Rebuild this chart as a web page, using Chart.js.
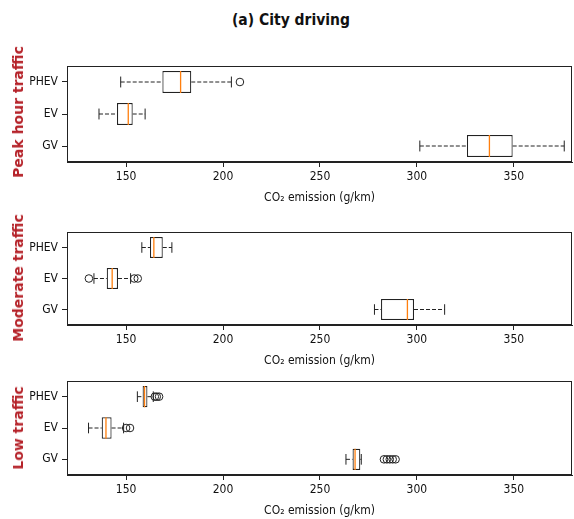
<!DOCTYPE html>
<html>
<head>
<meta charset="utf-8">
<script src="https://cdn.jsdelivr.net/npm/chart.js@4.4.1/dist/chart.umd.min.js"></script>
<style>
  body { margin: 0; background: #fff; }
  #wrap { position: relative; width: 574px; height: 519px; overflow: hidden; font-family: "DejaVu Sans Condensed", "DejaVu Sans", sans-serif; }
  #wrap canvas { position: absolute; left: 0; }
  .title { position: absolute; left: 141px; width: 300px; top: 10px; text-align: center; font-weight: bold; font-size: 15.5px; line-height: 20px; color: #111; }
  .rowlab { position: absolute; left: 18px; white-space: nowrap; font-family: "DejaVu Sans", sans-serif; font-weight: bold; font-size: 14px; color: #b52229; transform: translate(-50%, -50%) rotate(-90deg); }
</style>
</head>
<body>
<div id="wrap">
  <div class="title">(a) City driving</div>
</div>
<script>
// kategori (atas ke bawah) dan tick sumbu x
const categories = ['PHEV', 'EV', 'GV'];
const xTicks = [150, 200, 250, 300, 350];
const panelNames = ['Peak hour traffic', 'Moderate traffic', 'Low traffic'];

// Peak hour traffic
const peakWhiskerLow = [147.2, 136, 301.5];
const peakQ1 = [168.7, 145.3, 325.8];
const peakMedian = [178.1, 151.1, 337.4];
const peakQ3 = [183.6, 153.4, 349.4];
const peakWhiskerHigh = [204.3, 159.8, 376];
const peakOutliers = [[208.7], [], []];

// Moderate traffic
const modWhiskerLow = [158.1, 133.4, 278.1];
const modQ1 = [162.3, 140, 281.5];
const modMedian = [164.3, 142.8, 295.1];
const modQ3 = [168.9, 145.8, 298.5];
const modWhiskerHigh = [173.6, 152.3, 314.3];
const modOutliers = [[], [130.8, 154.2, 156], []];

// Low traffic
const lowWhiskerLow = [155.8, 130.6, 263.4];
const lowQ1 = [158.5, 137.4, 266.8];
const lowMedian = [159.5, 139.6, 268.1];
const lowQ3 = [161, 142.5, 270.8];
const lowWhiskerHigh = [164, 148.7, 271.3];
const lowOutliers = [[164.8, 165.8, 167], [150, 152], [283, 284.5, 286, 287.5, 289]];

const panels = [
  { lo: peakWhiskerLow, q1: peakQ1, med: peakMedian, q3: peakQ3, hi: peakWhiskerHigh, out: peakOutliers },
  { lo: modWhiskerLow, q1: modQ1, med: modMedian, q3: modQ3, hi: modWhiskerHigh, out: modOutliers },
  { lo: lowWhiskerLow, q1: lowQ1, med: lowMedian, q3: lowQ3, hi: lowWhiskerHigh, out: lowOutliers }
];

// posisi piksel area plot tiap panel
const areaTop = [66, 232, 381];
const areaBottom = [162, 325, 475];
const labelCenter = [112, 278, 428];
const boxPct = 0.68;
const boxHalf = boxPct / 2;
const capHalf = boxHalf / 2;
const ink = '#222';
const font = { family: '"DejaVu Sans Condensed", "DejaVu Sans", sans-serif', size: 12 };
const gap = { x: null, y: null };

// frame kotak di sekeliling area plot
const framePlugin = {
  id: 'frame',
  afterDraw(chart) {
    const a = chart.chartArea;
    const ctx = chart.ctx;
    ctx.save();
    ctx.strokeStyle = ink;
    ctx.lineWidth = 1;
    ctx.strokeRect(Math.round(a.left) + 0.5, Math.round(a.top) + 0.5, Math.round(a.right - a.left) - 1, Math.round(a.bottom - a.top) - 1);
    ctx.restore();
  }
};

function posOf(i) { return categories.length - i; }

function buildDatasets(p) {
  const whiskers = [], caps = [], medians = [], outliers = [];
  categories.forEach((c, i) => {
    const y = posOf(i);
    whiskers.push({ x: p.lo[i], y }, { x: p.q1[i], y }, gap, { x: p.q3[i], y }, { x: p.hi[i], y }, gap);
    caps.push({ x: p.lo[i], y: y - capHalf }, { x: p.lo[i], y: y + capHalf }, gap,
              { x: p.hi[i], y: y - capHalf }, { x: p.hi[i], y: y + capHalf }, gap);
    medians.push({ x: p.med[i], y: y - boxHalf }, { x: p.med[i], y: y + boxHalf }, gap);
    p.out[i].forEach(v => outliers.push({ x: v, y }));
  });
  const lineBase = { type: 'line', pointRadius: 0, borderWidth: 1, fill: false, tension: 0 };
  return [
    Object.assign({}, lineBase, { data: medians, borderColor: '#ff7f0e', borderWidth: 1.3 }),
    { type: 'scatter', data: outliers, pointStyle: 'circle', pointRadius: 3.8, borderWidth: 1,
      borderColor: ink, backgroundColor: 'rgba(0,0,0,0)' },
    Object.assign({}, lineBase, { data: caps, borderColor: ink }),
    Object.assign({}, lineBase, { data: whiskers, borderColor: ink, borderDash: [4, 2] }),
    {
      type: 'bar', indexAxis: 'y',
      data: categories.map((c, i) => ({ x: [p.q1[i], p.q3[i]], y: posOf(i) })),
      backgroundColor: '#fff', borderColor: ink, borderWidth: 1.2, borderSkipped: false,
      categoryPercentage: 1, barPercentage: boxPct
    }
  ];
}

// buang padding otomatis label supaya area plot tepat di posisi
function noPad(s) {
  s.paddingTop = 0; s.paddingBottom = 0; s.paddingLeft = 0; s.paddingRight = 0;
}

const wrap = document.getElementById('wrap');

panels.forEach((p, k) => {
  const padTop = 6, xAxisH = 43;
  const canvas = document.createElement('canvas');
  canvas.width = 574;
  canvas.height = padTop + (areaBottom[k] - areaTop[k]) + xAxisH;
  canvas.style.top = (areaTop[k] - padTop) + 'px';
  wrap.appendChild(canvas);

  const lab = document.createElement('div');
  lab.className = 'rowlab';
  lab.textContent = panelNames[k];
  lab.style.top = labelCenter[k] + 'px';
  wrap.appendChild(lab);

  new Chart(canvas.getContext('2d'), {
    type: 'bar',
    data: { datasets: buildDatasets(p) },
    options: {
      responsive: false,
      animation: false,
      events: [],
      layout: { autoPadding: false, padding: { top: padTop, right: 2, left: 0, bottom: 0 } },
      plugins: { legend: { display: false }, tooltip: { enabled: false }, title: { display: false } },
      scales: {
        x: {
          type: 'linear', min: 119.5, max: 380, offset: false, beginAtZero: false,
          afterBuildTicks: s => { s.ticks = xTicks.map(v => ({ value: v })); },
          afterFit: s => { s.height = xAxisH; noPad(s); },
          grid: { offset: false, drawOnChartArea: false, drawTicks: true, tickLength: 5, color: ink },
          border: { display: true, color: ink },
          ticks: { font, color: '#111', padding: 3, maxRotation: 0 },
          title: { display: true, text: 'CO₂ emission (g/km)', font, color: '#111', padding: { top: 4, bottom: 0 } }
        },
        y: {
          type: 'linear', min: 0.5, max: 3.5, offset: false, beginAtZero: false,
          afterBuildTicks: s => { s.ticks = categories.map((c, i) => ({ value: posOf(i) })); },
          afterFit: s => { s.width = 67; noPad(s); },
          grid: { offset: false, drawOnChartArea: false, drawTicks: true, tickLength: 5, color: ink },
          border: { display: true, color: ink },
          ticks: { font, color: '#111', padding: 4, callback: v => categories[categories.length - v] }
        }
      }
    },
    plugins: [framePlugin]
  });
});
</script>
</body>
</html>
